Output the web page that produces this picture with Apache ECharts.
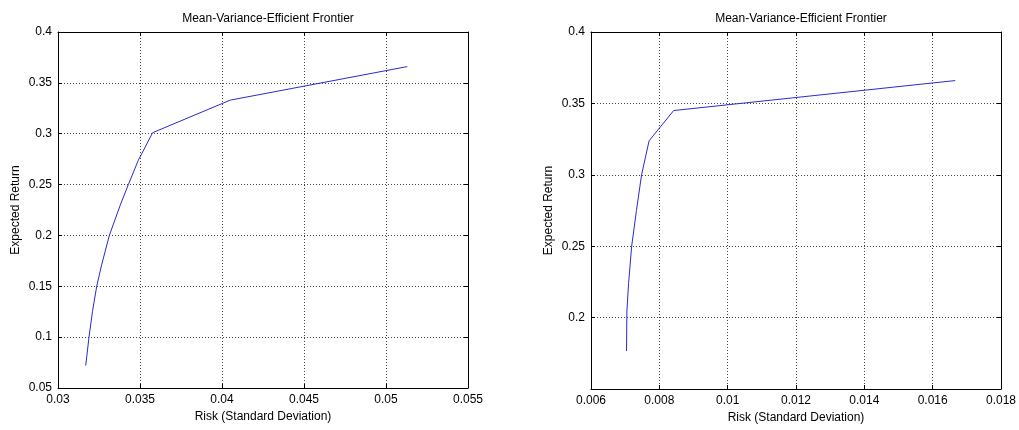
<!DOCTYPE html>
<html>
<head>
<meta charset="utf-8">
<title>Mean-Variance-Efficient Frontier</title>
<script src="https://cdn.jsdelivr.net/npm/echarts@6/dist/echarts.min.js"></script>
<style>
  html, body { margin: 0; padding: 0; background: #ffffff; }
  #chart { width: 1019px; height: 430px; }
</style>
</head>
<body>
<div id="chart"></div>
<script>
// Frontier 1: risk (std dev) and expected return
const riskA = [0.03169, 0.03189, 0.03210, 0.03236, 0.03266, 0.03313, 0.03380, 0.03429, 0.03490, 0.03577, 0.0405, 0.0513];
const returnA = [0.072, 0.100, 0.125, 0.150, 0.171, 0.200, 0.230, 0.250, 0.274, 0.301, 0.333, 0.366];

// Frontier 2: risk (std dev) and expected return
const riskB = [0.00704, 0.00705, 0.00710, 0.00719, 0.00733, 0.00748, 0.00770, 0.00842, 0.01666];
const returnB = [0.1766, 0.204, 0.224, 0.250, 0.275, 0.300, 0.3238, 0.345, 0.366];

// Axis ranges and tick steps
const xTicksA = { min: 0.03, max: 0.055, step: 0.005 };
const yTicksA = { min: 0.05, max: 0.4, step: 0.05 };
const xTicksB = { min: 0.006, max: 0.018, step: 0.002 };
const yTicksB = { min: 0.15, max: 0.4, step: 0.05 };

const titleText = 'Mean-Variance-Efficient Frontier';
const xName = 'Risk (Standard Deviation)';
const yName = 'Expected Return';

const FONT = 'Liberation Sans, Arial, sans-serif';
const fmt = v => String(+v.toFixed(4));

function pairs(xs, ys) { return xs.map((x, i) => [x, ys[i]]); }

const gridLine = { show: true, lineStyle: { color: '#444', width: 1, type: [1, 2] } };
const tick = { show: true, inside: true, length: 4, lineStyle: { color: '#000' } };
const label = { color: '#000', fontFamily: FONT, fontSize: 12 };

function mainX(gi, r) {
  return {
    type: 'value', gridIndex: gi, position: 'bottom', min: r.min, max: r.max, interval: r.step,
    name: xName, nameLocation: 'middle', nameGap: 22,
    nameTextStyle: { color: '#000', fontFamily: FONT, fontSize: 12 },
    axisLine: { show: true, onZero: false, lineStyle: { color: '#000' } },
    axisTick: tick, splitLine: gridLine,
    axisLabel: Object.assign({ margin: 6, formatter: fmt }, label)
  };
}
function mainY(gi, r, hideMin) {
  return {
    type: 'value', gridIndex: gi, position: 'left', min: r.min, max: r.max, interval: r.step,
    name: yName, nameLocation: 'middle', nameGap: 36,
    nameTextStyle: { color: '#000', fontFamily: FONT, fontSize: 12 },
    axisLine: { show: true, onZero: false, lineStyle: { color: '#000' } },
    axisTick: tick, splitLine: gridLine,
    axisLabel: Object.assign({ margin: 6, formatter: fmt, showMinLabel: !hideMin }, label)
  };
}
function boxX(gi, r) {
  return {
    type: 'value', gridIndex: gi, position: 'top', min: r.min, max: r.max, interval: r.step,
    axisLine: { show: true, onZero: false, lineStyle: { color: '#000' } },
    axisTick: tick, axisLabel: { show: false }, splitLine: { show: false }
  };
}
function boxY(gi, r) {
  return {
    type: 'value', gridIndex: gi, position: 'right', min: r.min, max: r.max, interval: r.step,
    axisLine: { show: true, onZero: false, lineStyle: { color: '#000' } },
    axisTick: tick, axisLabel: { show: false }, splitLine: { show: false }
  };
}

const chart = echarts.init(document.getElementById('chart'), null, { renderer: 'canvas' });
chart.setOption({
  animation: false,
  backgroundColor: '#ffffff',
  title: [
    { text: titleText, left: 263, top: 8, textAlign: 'center',
      textStyle: { color: '#000', fontFamily: FONT, fontSize: 12, fontWeight: 'normal' } },
    { text: titleText, left: 796, top: 8, textAlign: 'center',
      textStyle: { color: '#000', fontFamily: FONT, fontSize: 12, fontWeight: 'normal' } }
  ],
  grid: [
    { left: 58, right: 551, top: 32, bottom: 42 },
    { left: 591, right: 18, top: 32, bottom: 41 }
  ],
  xAxis: [mainX(0, xTicksA), boxX(0, xTicksA), mainX(1, xTicksB), boxX(1, xTicksB)],
  yAxis: [mainY(0, yTicksA, false), boxY(0, yTicksA), mainY(1, yTicksB, true), boxY(1, yTicksB)],
  series: [
    { type: 'line', xAxisIndex: 0, yAxisIndex: 0, data: pairs(riskA, returnA),
      showSymbol: false, lineStyle: { color: '#2a2ad0', width: 1 } },
    { type: 'line', xAxisIndex: 2, yAxisIndex: 2, data: pairs(riskB, returnB),
      showSymbol: false, lineStyle: { color: '#2a2ad0', width: 1 } }
  ]
});
</script>
</body>
</html>
